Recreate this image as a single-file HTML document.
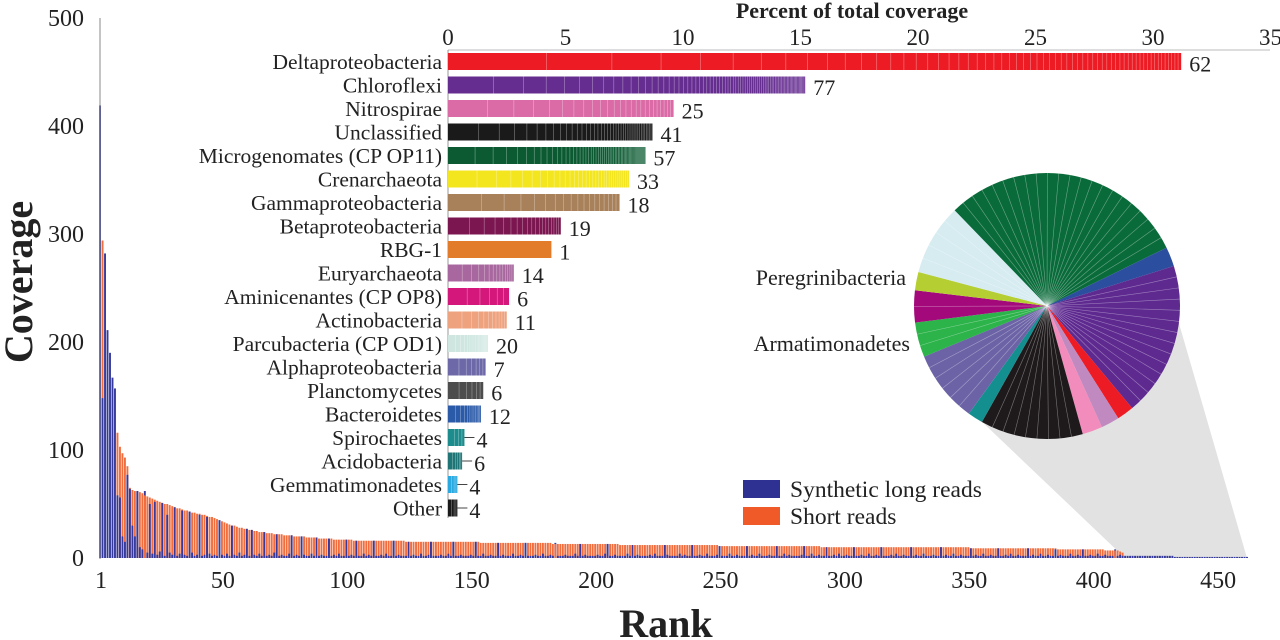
<!DOCTYPE html>
<html><head><meta charset="utf-8"><style>
html,body{margin:0;padding:0;background:#fff;}
svg{display:block;font-family:"Liberation Serif",serif;}
</style></head><body>
<svg id="chart" width="1280" height="640" viewBox="0 0 1280 640" xmlns="http://www.w3.org/2000/svg"></svg>
<script>
// ---------- main rank chart data ----------
const shortReads = [
0,294,0,0,0,0,0,116,103,97,93,85,65,63,62,62,61,60,58,57,
56,55,54,53,52,51,50,50,49,48,47,46,46,45,44,44,43,42,42,41,
41,40,40,39,38,38,37,36,35,34,33,32,31,30,30,29,28,28,27,27,
26,26,25,25,24,24,24,23,23,23,22,22,22,22,21,21,21,21,20,20,
20,20,20,19,19,19,19,19,18,18,18,18,18,18,17,17,17,17,17,17,
17,17,16,16,16,16,16,16,16,16,16,16,16,16,16,16,16,16,16,16,
16,16,16,15,15,15,15,15,15,15,15,15,15,15,15,15,15,15,15,15,
15,15,15,15,15,15,15,15,15,15,15,15,15,14,14,14,14,14,14,14,
14,14,14,14,14,14,14,14,14,14,14,14,14,14,14,14,14,14,14,14,
14,14,13,13,13,13,13,13,13,13,13,13,13,13,13,13,13,13,13,13,
13,13,13,13,13,13,13,13,13,12,12,12,12,12,12,12,12,12,12,12,
12,12,12,12,12,12,12,12,12,12,12,12,12,12,12,12,12,12,12,12,
12,12,12,12,12,12,12,12,12,11,11,11,11,11,11,11,11,11,11,11,
11,11,11,11,11,11,11,11,11,11,11,11,11,11,11,11,11,11,11,11,
11,11,11,11,11,11,11,11,11,11,10,10,10,10,10,10,10,10,10,10,
10,10,10,10,10,10,10,10,10,10,10,10,10,10,10,10,10,10,10,10,
10,10,10,10,10,10,10,10,10,10,10,10,10,10,10,10,10,10,10,10,
10,10,10,10,10,10,10,10,10,10,9,9,9,9,9,9,9,9,9,9,
9,9,9,9,9,9,9,9,9,9,9,9,9,9,9,9,9,9,9,9,
9,9,9,9,9,8,8,8,8,8,8,8,8,8,8,8,8,8,8,8,
8,8,8,8,7,7,7,7,7,7,6,5
];
const longReads = [
419,148,282,211,190,167,157,58,56,20,15,77,64,30,20,62,10,8,62,5,
50,4,52,3,6,51,2,40,5,3,47,2,4,44,3,2,43,5,2,3,
40,2,3,38,4,2,3,2,35,3,2,4,2,30,3,2,5,2,3,27,
2,26,3,2,4,2,24,2,3,2,5,22,2,3,2,2,4,21,2,3,
2,20,3,2,2,4,2,19,2,3,2,2,18,2,3,2,4,2,2,17,
2,3,2,16,2,2,4,2,3,2,16,2,2,3,2,4,2,2,16,2,
3,2,2,2,15,2,3,2,2,4,2,2,3,15,2,2,2,3,2,2,
4,2,15,2,2,3,2,2,2,3,2,15,2,2,4,2,2,3,2,2,
14,2,3,2,2,2,4,2,2,3,2,14,2,2,2,3,2,2,4,2,
2,3,2,14,2,2,2,3,2,2,2,4,2,13,2,3,2,2,2,2,
3,2,2,4,13,2,2,3,2,2,2,2,4,2,12,2,3,2,2,2,
2,3,2,4,2,2,2,12,3,2,2,2,2,4,2,3,2,2,12,2,
2,3,2,2,4,2,2,2,3,11,2,2,2,4,2,2,3,2,2,2,
11,2,3,2,2,4,2,2,2,3,2,2,11,2,2,4,2,3,2,2,
2,2,3,11,2,2,4,2,2,3,2,2,10,2,2,3,2,4,2,2,
3,2,2,10,2,2,3,2,2,4,2,2,3,2,10,2,2,2,3,2,
4,2,2,3,2,2,10,2,3,2,2,4,2,2,2,3,2,2,10,2,
3,2,2,4,2,2,3,2,2,2,9,2,3,2,2,4,2,2,3,2,
2,9,2,2,3,2,4,2,2,3,2,2,2,9,2,3,2,2,4,2,
2,3,2,2,8,2,3,2,2,2,4,2,2,3,2,8,2,2,3,2,
2,4,2,2,3,2,2,2,8,2,3,2,
2,2,2,2,2,2,2,2,2,2,2,2,2,2,2,2,2,2,2,2,1,1,1,1,1,1,1,1,1,1,1,1,1,1,1,1,1,1,1,1,1,1,1,1,1,1,1,1,1,1
];
const rankTicks = [1,50,100,150,200,250,300,350,400,450];
const coverageTicks = [0,100,200,300,400,500];

// ---------- inner percent chart data ----------
const phyla = ["Deltaproteobacteria","Chloroflexi","Nitrospirae","Unclassified","Microgenomates (CP OP11)","Crenarchaeota","Gammaproteobacteria","Betaproteobacteria","RBG-1","Euryarchaeota","Aminicenantes (CP OP8)","Actinobacteria","Parcubacteria (CP OD1)","Alphaproteobacteria","Planctomycetes","Bacteroidetes","Spirochaetes","Acidobacteria","Gemmatimonadetes","Other"];
const percents = [31.2,15.2,9.6,8.7,8.4,7.7,7.3,4.8,4.4,2.8,2.6,2.5,1.7,1.6,1.5,1.4,0.7,0.6,0.4,0.4];
const genomeCounts = [62,77,25,41,57,33,18,19,1,14,6,11,20,7,6,12,4,6,4,4];
const phylaColors = ["#ed1c24","#662d91","#da6ba6","#1a1a1a","#0b5a32","#f4e61e","#a8805a","#7b1650","#e27b2a","#a8689f","#d4177b","#eea27e","#cfe6e0","#6d69a8","#4d4d4d","#2a5aa8","#1d8c8c","#1f7575","#2aa8e0","#1a1a1a"];
const percentTicks = [0,5,10,15,20,25,30,35];

// ---------- pie data (degrees of slice) ----------
const pieColors = ["#0a6b3a","#2b4f9e","#5e2a90","#ed1c24","#c08ac0","#f28cbc","#1e1a1c","#138f8f","#6b63a6","#2cb34a","#a3097b","#b5cf32","#d6ecf1"];
const pieValues = [108,8.5,67.7,7.4,8,8.8,44.9,6.7,31.6,15.2,14,8,31.2];
const pieStripes = [22,1,14,1,1,1,9,1,6,3,2,1,5];

const NS="http://www.w3.org/2000/svg";
const svg=document.getElementById('chart');
function mk(tag,attrs,parent){const e=document.createElementNS(NS,tag);for(const k in attrs)e.setAttribute(k,attrs[k]);(parent||svg).appendChild(e);return e;}

const X0=100, STEP=2.488, Y0=558, YPX=1.08;
function xRank(r){return X0+(r-1)*STEP;}
function yCov(v){return Y0-v*YPX;}
const PX0=448, PPX=23.5;
function xPct(p){return PX0+p*PPX;}
function rowY(i){return 61.5+i*23.5;}

const funnel=mk('polygon',{points:"1178,320 1247,558 1125,558 978,418",fill:"#e2e2e2"});



const gBars=mk('g',{});


const n=Math.max(shortReads.length,longReads.length);
for(let i=0;i<n;i++){
  const s=shortReads[i]||0, l=longReads[i]||0, x=xRank(i+1)-0.9;
  const parts=[{v:s,c:"#f26d3d",nm:'short-read-bar'},{v:l,c:"#353a9c",nm:'long-read-bar'}].sort((a,b)=>b.v-a.v);
  parts.forEach(p=>{ if(p.v<=0)return;
    const r=mk('rect',{x:x,y:yCov(p.v),width:1.9,height:p.v*YPX,fill:p.c},gBars);
    
    
  });
}

const ax=mk('line',{x1:100,y1:18,x2:100,y2:559,stroke:"#888","stroke-width":1});


coverageTicks.forEach(t=>{
  const tx=mk('text',{x:84,y:yCov(t)+8,"text-anchor":"end","font-size":24,fill:"#222"});
  tx.textContent=t;
  
  
});
rankTicks.forEach(t=>{
  const tx=mk('text',{x:xRank(t)+1,y:588,"text-anchor":"middle","font-size":24,fill:"#222"});
  tx.textContent=t;
  
  
});
const yt=mk('text',{x:0,y:0,transform:"translate(32,282) rotate(-90)","text-anchor":"middle","font-size":40,"font-weight":"bold",fill:"#222"});
yt.textContent="Coverage";


const xt=mk('text',{x:666,y:637,"text-anchor":"middle","font-size":40,"font-weight":"bold",fill:"#222"});
xt.textContent="Rank";



const pTitle=mk('text',{x:852,y:18,"text-anchor":"middle","font-size":22,"font-weight":"bold",fill:"#222"});
pTitle.textContent="Percent of total coverage";


const pAx=mk('line',{x1:448,y1:50,x2:1270,y2:50,stroke:"#bbb","stroke-width":1});


const vAx=mk('line',{x1:448,y1:50,x2:448,y2:518,stroke:"#999","stroke-width":1});


percentTicks.forEach(t=>{
  const tx=mk('text',{x:xPct(t),y:45,"text-anchor":"middle","font-size":23,fill:"#222"});
  tx.textContent=t;
  
  
});
phyla.forEach((name,i)=>{
  const cy=rowY(i);
  const lb=mk('text',{x:442,y:cy+7.5,"text-anchor":"end","font-size":21.5,fill:"#222"});
  lb.textContent=name;
  
  
  const w=xPct(percents[i])-PX0;
  const b=mk('rect',{x:PX0,y:cy-8.5,width:w,height:17,fill:phylaColors[i]});
  
  
  const k=genomeCounts[i];
  let acc=0,tot=0;const ws=[];for(let j=0;j<k;j++){ws.push(1/(j+2));tot+=1/(j+2);}
  for(let j=0;j<k-1;j++){acc+=ws[j]/tot*w;
    mk('line',{x1:PX0+acc,y1:cy-8.5,x2:PX0+acc,y2:cy+8.5,stroke:"#fff","stroke-width":0.6,"stroke-opacity":0.45});}
  const end=xPct(percents[i]);
  let lx=end+8;
  if(w<25){mk('line',{x1:end,y1:cy,x2:end+10,y2:cy,stroke:"#444","stroke-width":1});lx=end+12;}
  const ct=mk('text',{x:lx,y:cy+10,"font-size":22,fill:"#222"});
  ct.textContent=k;
  
  
});

const CX=1047,CY=306,R=133;
const gPie=mk('g',{});


function pt(a,r){const rad=a*Math.PI/180;return [CX+r*Math.sin(rad),CY-r*Math.cos(rad)];}
let ang=-44;
pieValues.forEach((v,i)=>{
  const a0=ang,a1=ang+v;ang=a1;
  const p0=pt(a0,R),p1=pt(a1,R);
  const s=mk('path',{d:`M${CX},${CY}L${p0[0]},${p0[1]}A${R},${R} 0 ${v>180?1:0} 1 ${p1[0]},${p1[1]}Z`,fill:pieColors[i]},gPie);
  
  
  for(let j=1;j<pieStripes[i];j++){const q=pt(a0+v*j/pieStripes[i],R);
    mk('line',{x1:CX,y1:CY,x2:q[0],y2:q[1],stroke:"#fff","stroke-width":0.6,"stroke-opacity":0.4},gPie);}
});
const pl1=mk('text',{x:906,y:285,"text-anchor":"end","font-size":22,fill:"#222"});
pl1.textContent="Peregrinibacteria";


const pl2=mk('text',{x:910,y:351,"text-anchor":"end","font-size":22,fill:"#222"});
pl2.textContent="Armatimonadetes";



const lg=mk('g',{});


const l1=mk('rect',{x:743,y:480,width:37,height:18,fill:"#2e3192"},lg);


const t1=mk('text',{x:790,y:497,"font-size":23.5,fill:"#222"},lg);
t1.textContent="Synthetic long reads";


const l2=mk('rect',{x:743,y:507,width:37,height:18,fill:"#f05a28"},lg);


const t2=mk('text',{x:790,y:524,"font-size":23.5,fill:"#222"},lg);
t2.textContent="Short reads";


</script>
</body></html>
